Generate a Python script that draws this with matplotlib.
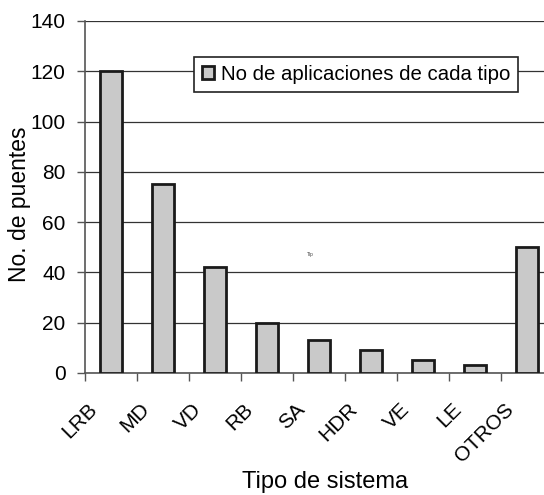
import matplotlib
matplotlib.use('Agg')
import matplotlib.pyplot as plt
import matplotlib.transforms as mtrans
import numpy as np

plt.rcParams['font.family'] = ['Liberation Sans', 'DejaVu Sans']

# data
categories = ['LRB', 'MD', 'VD', 'RB', 'SA', 'HDR', 'VE', 'LE', 'OTROS']
counts = [120, 75, 42, 20, 13, 9, 5, 3, 50]
yticks = [0, 20, 40, 60, 80, 100, 120, 140]

figW, figH = 5.44, 4.95
fig = plt.figure(figsize=(figW, figH), dpi=100)

# axes run past the right edge, like the cropped original
ax = plt.axes([85/544, 1 - 373/495, 468/544, 352/495])

x = np.arange(len(categories))
ax.bar(x, counts, width=0.43, color='#c9c9c9', edgecolor='#1a1a1a', linewidth=2,
       label='No de aplicaciones de cada tipo', zorder=3)

ax.set_xlim(-0.5, len(categories) - 0.5)
ax.set_ylim(0, 140)
ax.set_yticks(yticks)
ax.set_yticklabels([str(v) for v in yticks], fontsize=15)
ax.yaxis.grid(True, color='#333333', linewidth=0.9, zorder=0)

# x ticks sit between categories, labels at centres
ax.set_xticks(np.arange(len(categories) + 1) - 0.5)
ax.set_xticklabels([])
ax.set_xticks(x, minor=True)
ax.set_xticklabels(categories, minor=True, rotation=45, ha='right', va='top',
                   fontsize=15)
ax.tick_params(axis='x', which='minor', length=0, pad=19)
ax.tick_params(axis='x', which='major', length=6, width=1, color='#555555', direction='out')
ax.tick_params(axis='y', length=6, width=1, color='#555555', pad=8)

shift = mtrans.ScaledTranslation(-10/100, 0, fig.dpi_scale_trans)
for lbl in ax.get_xticklabels(minor=True):
    lbl.set_transform(lbl.get_transform() + shift)

for side in ['top', 'right']:
    ax.spines[side].set_visible(False)
ax.spines['left'].set_color('#555555')
ax.spines['bottom'].set_color('#555555')
ax.spines['left'].set_linewidth(1.2)
ax.spines['bottom'].set_linewidth(1.2)

fig.text(20/544, 1 - 204/495, 'No. de puentes', fontsize=16.5, rotation=90,
         ha='center', va='center')
fig.text(325/544, 1 - 482/495, 'Tipo de sistema', fontsize=17,
         ha='center', va='center')

ax.text(3.83, 47, 'Tip', fontsize=3.5, ha='center', va='center', color='#444444')

leg = ax.legend(loc='upper left', bbox_to_anchor=(194/544, 1 - 57/495),
                bbox_transform=fig.transFigure, fontsize=14.7, frameon=True,
                fancybox=False, edgecolor='#222222', framealpha=1,
                handlelength=0.6, handleheight=0.6, handletextpad=0.3,
                borderpad=0.4, borderaxespad=0)
leg.get_frame().set_linewidth(1.2)
leg.set_zorder(5)

plt.savefig('out.png', dpi=100)
